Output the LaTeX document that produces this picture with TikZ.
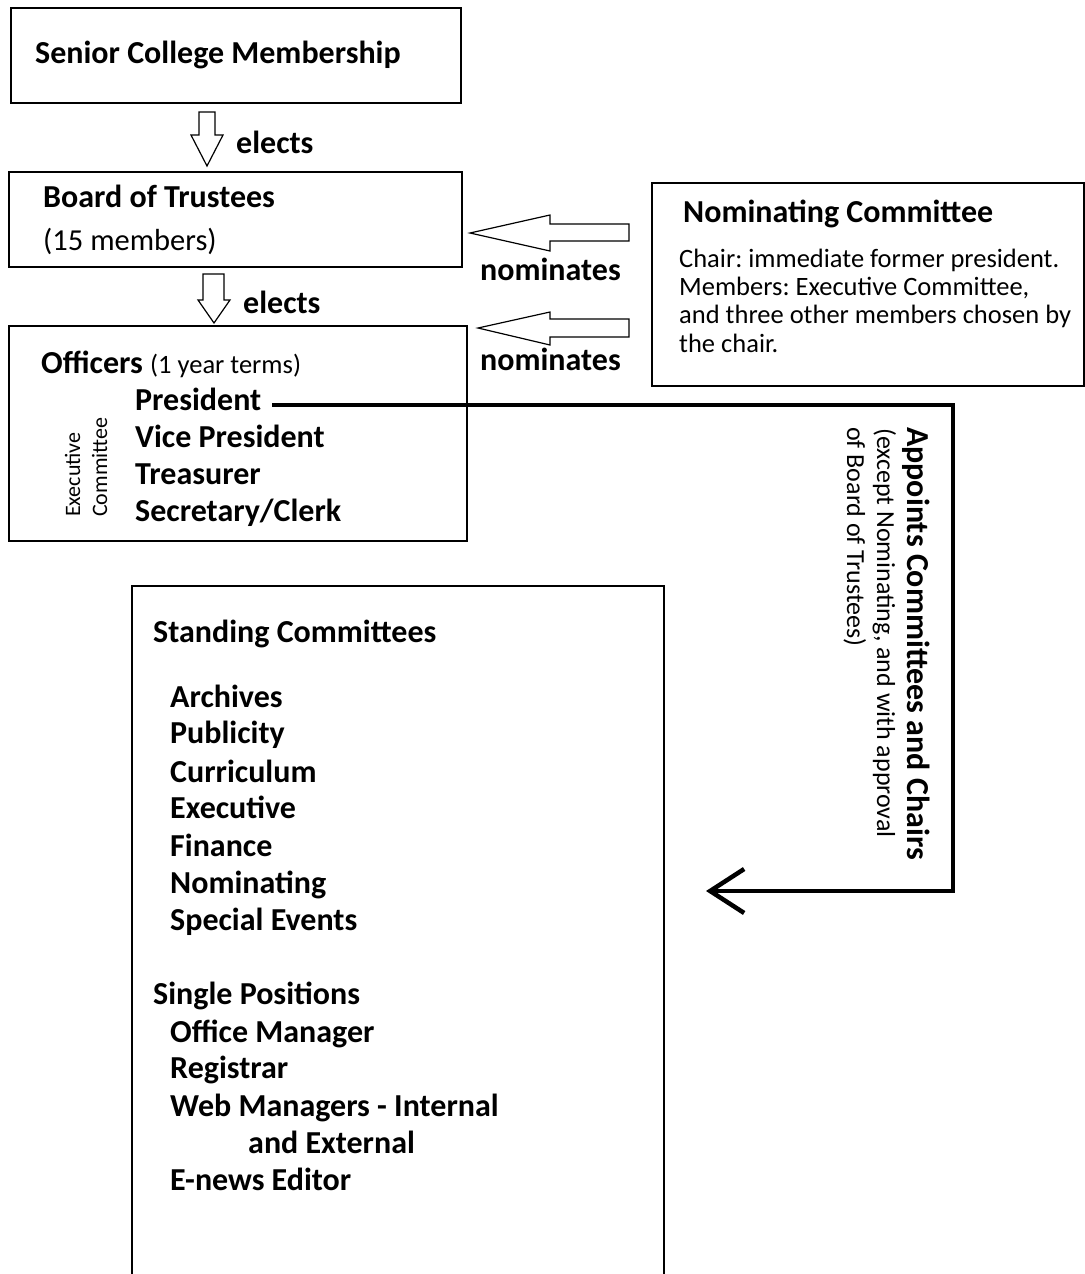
\documentclass[tikz,border=0pt]{standalone}
\usepackage{fontspec}
\setmainfont{Carlito}
\usetikzlibrary{arrows.meta}
\frenchspacing
\begin{document}
\begin{tikzpicture}[x=1pt,y=-1pt,
  box/.style={draw=black, line width=2pt, rectangle, inner sep=0pt, anchor=north west},
  lbl/.style={anchor=base west, inner sep=0pt, text=black},
  bigb/.style={font=\fontsize{32}{38}\selectfont\bfseries},
  bigr/.style={font=\fontsize{30.5}{37}\selectfont},
  nomt/.style={font=\fontsize{32}{38}\selectfont\bfseries},
  nomb/.style={font=\fontsize{26.5}{29}\selectfont},
  smallr/.style={font=\fontsize{22}{27}\selectfont},
  appb/.style={font=\fontsize{32}{38}\selectfont\bfseries},
  appr/.style={font=\fontsize{26}{30}\selectfont},
  blockarrow/.style={draw=black, line width=1.2pt, fill=white, line join=miter},
  conn/.style={draw=black, line width=4.5pt, line join=miter}
]
\useasboundingbox (0,0) rectangle (1084,1274);
\fill[white] (0,0) rectangle (1084,1274);

% boxes
\node[box, minimum width=450pt, minimum height=95pt] (scm) at (10,7) {};
\node[box, minimum width=453pt, minimum height=95pt] (bot) at (8,171) {};
\node[box, minimum width=458pt, minimum height=215pt] (off) at (8,325) {};
\node[box, minimum width=432pt, minimum height=203pt] (nom) at (651,182) {};
\node[box, minimum width=532pt, minimum height=700pt] (stc) at (131,585) {};

% texts of top boxes
\node[lbl, bigb] (t1) at (35,63) {Senior College Membership};
\node[lbl, bigb] (t2) at (43,207) {Board of Trustees};
\node[lbl, bigr] (t3) at (43,250) {(15 members)};
\node[lbl] (t4) at (41,373) {\fontsize{32}{38}\selectfont\bfseries Officers \fontsize{26.5}{30}\selectfont\mdseries(1 year terms)};
\node[lbl, bigb] (pres) at (135,410) {President};
\node[lbl, bigb] (vp) at (135,447) {Vice President};
\node[lbl, bigb] (tre) at (135,484) {Treasurer};
\node[lbl, bigb] (sec) at (135,521) {Secretary/Clerk};
\node[lbl, smallr, rotate=90] (ex1) at (80,517) {Executive};
\node[lbl, smallr, rotate=90] (ex2) at (107,517) {Committee};

% nominating committee
\node[lbl, nomt] (n0) at (683,222) {Nominating Committee};
\node[lbl, nomb] (n1) at (679,267) {Chair: immediate former president.};
\node[lbl, nomb] (n2) at (679,295) {Members: Executive Committee,};
\node[lbl, nomb] (n3) at (679,323) {and three other members chosen by};
\node[lbl, nomb] (n4) at (679,352) {the chair.};

% standing committees
\node[lbl, bigb] (s0) at (153,642) {Standing Committees};
\node[lbl, bigb] (s1) at (170,707) {Archives};
\node[lbl, bigb] (s2) at (170,743) {Publicity};
\node[lbl, bigb] (s3) at (170,782) {Curriculum};
\node[lbl, bigb] (s4) at (170,818) {Executive};
\node[lbl, bigb] (s5) at (170,856) {Finance};
\node[lbl, bigb] (s6) at (170,893) {Nominating};
\node[lbl, bigb] (s7) at (170,930) {Special Events};
\node[lbl, bigb] (p0) at (153,1004) {Single Positions};
\node[lbl, bigb] (p1) at (170,1042) {Office Manager};
\node[lbl, bigb] (p2) at (170,1078) {Registrar};
\node[lbl, bigb] (p3) at (170,1116) {Web Managers - Internal};
\node[lbl, bigb] (p4) at (248,1153) {and External};
\node[lbl, bigb] (p5) at (170,1190) {E-news Editor};

% block arrows: elects
\draw[blockarrow] (199,112) -- (215,112) -- (215,135) -- (223,135) -- (207,166) -- (191,135) -- (199,135) -- cycle;
\node[lbl, bigb] (e1) at (236,153) {elects};
\draw[blockarrow] (203,274) -- (224,274) -- (224,300) -- (230,300) -- (214,323) -- (198,300) -- (203,300) -- cycle;
\node[lbl, bigb] (e2) at (243,313) {elects};

% block arrows: nominates
\draw[blockarrow] (629,224) -- (550,224) -- (550,215) -- (470,233) -- (550,251) -- (550,241) -- (629,241) -- cycle;
\node[lbl, bigb] (m1) at (480,280) {nominates};
\draw[blockarrow] (629,319) -- (550,319) -- (550,312) -- (478,328) -- (550,345) -- (550,337) -- (629,337) -- cycle;
\node[lbl, bigb] (m2) at (480,370) {nominates};

% appoints connector
\coordinate (c2) at (953,891);
\coordinate (endp) at (706,891);
\draw[conn, -{Straight Barb[length=34pt,width=44pt]}] ([xshift=11pt,yshift=5pt]pres.base east) -| (c2) -- (endp);

\node[lbl, appb, rotate=-90] (a1) at (907,427) {Appoints Committees and Chairs};
\node[lbl, appr, rotate=-90] (a2) at (877,428) {(except Nominating, and with approval};
\node[lbl, appr, rotate=-90] (a3) at (847,427) {of Board of Trustees)};
\end{tikzpicture}
\end{document}
